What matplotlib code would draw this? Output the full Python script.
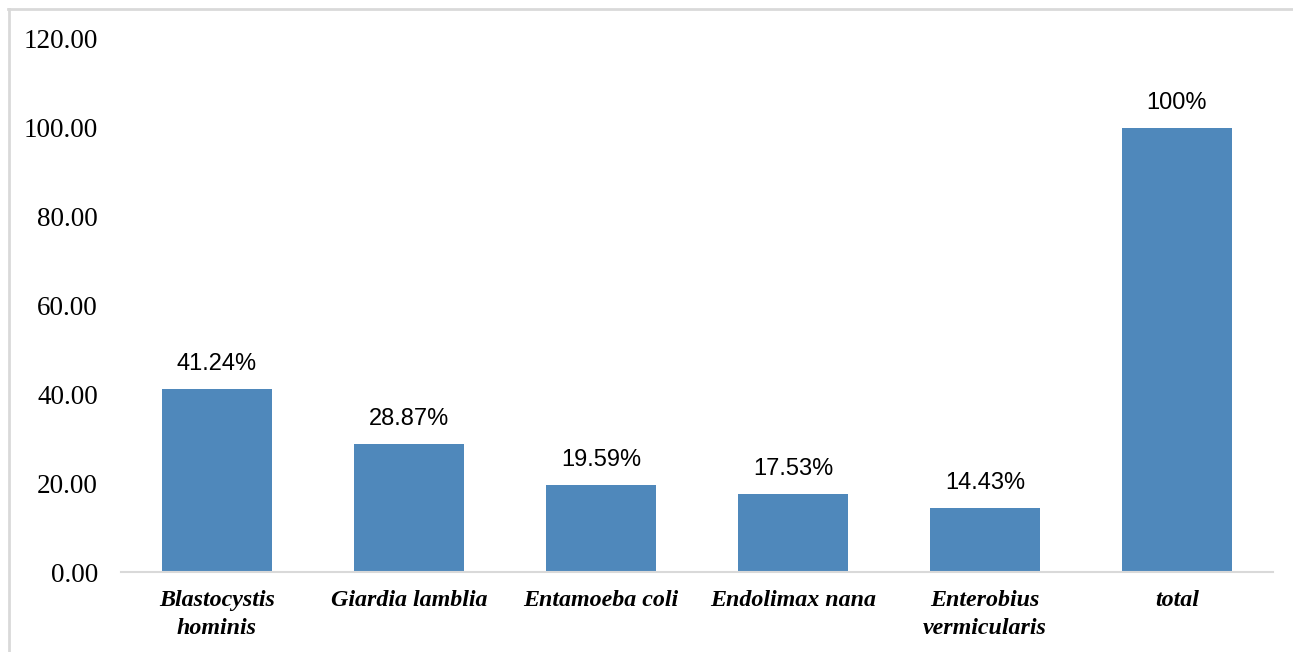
import matplotlib.pyplot as plt
from matplotlib.lines import Line2D

# data
species = ["Blastocystis\nhominis", "Giardia lamblia", "Entamoeba coli",
           "Endolimax nana", "Enterobius\nvermicularis", "total"]
percent = [41.24, 28.87, 19.59, 17.53, 14.43, 100]
labels = ["41.24%", "28.87%", "19.59%", "17.53%", "14.43%", "100%"]
yticks = [0, 20, 40, 60, 80, 100, 120]

W, H = 1293, 652
fig = plt.figure(figsize=(W / 100, H / 100), dpi=100)
ax = fig.add_axes([121 / W, 1 - 572 / H, (1273 - 121) / W, (572 - 39) / H])

x = range(len(species))
bars = ax.bar(x, percent, width=0.57, color="#4f88bb")

for b, lab in zip(bars, labels):
    ax.annotate(lab, (b.get_x() + b.get_width() / 2, b.get_height()),
                xytext=(0, 10), textcoords="offset points",
                ha="center", va="bottom", fontsize=17,
                family="Liberation Sans", color="black")

ax.set_xlim(-0.5, len(species) - 0.5)
ax.set_ylim(0, 120)
ax.set_yticks(yticks)
ax.set_yticklabels([f"{v:.2f}" for v in yticks], family="Liberation Serif",
                   fontsize=19.5)
ax.set_xticks(list(x))
ax.set_xticklabels(species, family="Liberation Serif", fontsize=17.3,
                   fontweight="bold", fontstyle="italic", linespacing=1.45)
ax.tick_params(axis="both", length=0)
ax.tick_params(axis="y", pad=16.5)
ax.tick_params(axis="x", pad=13)

for s in ["top", "right", "left"]:
    ax.spines[s].set_visible(False)
ax.spines["bottom"].set_color("#d9d9d9")
ax.spines["bottom"].set_linewidth(1.5)

# light outer frame of the chart area
fig.add_artist(Line2D([8 / W, 1], [1 - 8.5 / H, 1 - 8.5 / H],
                      color="#d9d9d9", lw=2, transform=fig.transFigure))
fig.add_artist(Line2D([8.5 / W, 8.5 / W], [0, 1 - 8.5 / H],
                      color="#d9d9d9", lw=2, transform=fig.transFigure))

fig.savefig("out.png", dpi=100)
